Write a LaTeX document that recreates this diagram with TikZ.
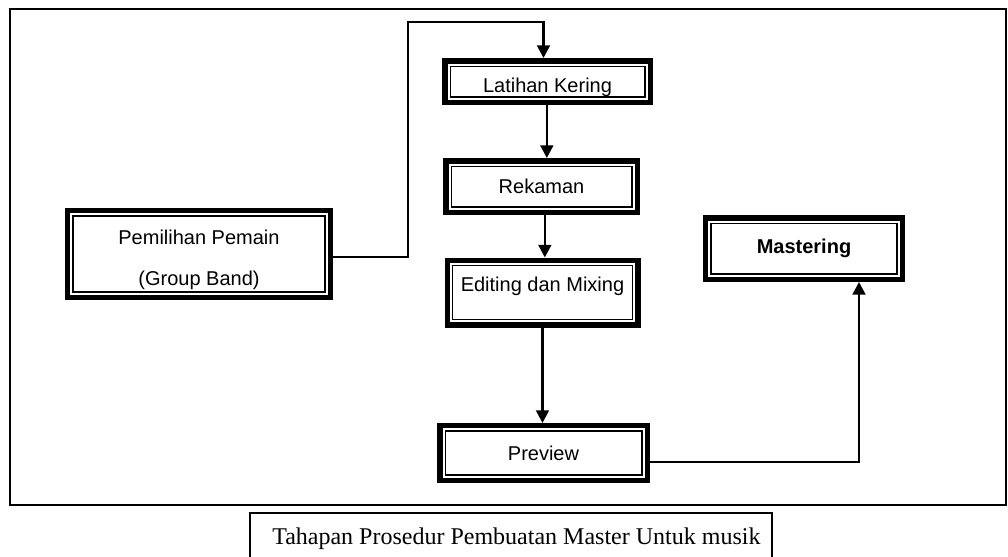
\documentclass[tikz,border=0pt]{standalone}
\usepackage{fontspec}
\setmainfont{Liberation Serif}
\setsansfont{Liberation Sans}
\usetikzlibrary{arrows.meta}
\tikzset{
  stagebox/.style={draw=black,line width=4.1pt,fill=white,inner sep=0pt,
    align=center,font=\sffamily\fontsize{15}{30.75}\selectfont,
    path picture={\draw[line width=1.1pt]
      ([shift={(4.1pt,-4.1pt)}]path picture bounding box.north west) rectangle
      ([shift={(-4.1pt,4.1pt)}]path picture bounding box.south east);}},
  flow/.style={-{Triangle[width=9.5pt,length=9.5pt]},line width=2pt,black},
  frameline/.style={draw=black,line width=1.5pt},
  captionline/.style={draw=black,line width=1.1pt}
}

\begin{document}
\begin{tikzpicture}[x=0.75pt,y=-0.75pt]
  \useasboundingbox (0,0) rectangle (1008,557);
  % Outer frame
  \draw[frameline] (10,9) rectangle (1006,505);

  % Stages
  \node[stagebox,minimum width=196.9pt,minimum height=64.9pt] (pemilihan) at (199,254) {\rule{0pt}{20pt}Pemilihan Pemain\\(Group Band)};
  \node[stagebox,minimum width=154.1pt,minimum height=31.1pt,text height=20pt,text depth=3.2pt] (latihan) at (547.5,81.5) {Latihan Kering};
  \node[stagebox,minimum width=143.6pt,minimum height=38.6pt] (rekaman) at (541.5,186.5) {Rekaman};
  \node[stagebox,minimum width=142.9pt,minimum height=48.4pt,text height=11pt,text depth=12pt] (editing) at (542.5,292.5) {Editing dan Mixing};
  \node[stagebox,minimum width=155.6pt,minimum height=40.9pt] (preview) at (543.5,453) {Preview};
  \node[stagebox,minimum width=147.4pt,minimum height=46.1pt,font=\sffamily\bfseries\fontsize{15}{18}\selectfont] (mastering) at (804,248.5) {Mastering};

  % Connectors
  \coordinate (topturn) at (408,22);
  \draw[flow] ([yshift=-2.25pt]pemilihan.east) -| (topturn) -| ([xshift=-3pt]latihan.north);
  \draw[flow] ([xshift=-0.5pt]latihan.south) -- ([xshift=-0.5pt]rekaman.north -| latihan.south);
  \draw[flow] ([xshift=2.5pt]rekaman.south) -- ([xshift=2.5pt]editing.north -| rekaman.south);
  \draw[flow] (editing.south) -- (preview.north -| editing.south);
  \draw[flow] ([yshift=-6.75pt]preview.east) -| ([xshift=41.25pt]mastering.south);

  % Caption
  \draw[captionline] (250,513) rectangle (772,580);
  \node[anchor=base west,inner sep=0pt,font=\fontsize{18}{21}\selectfont] (caption) at (272,544) {Tahapan Prosedur Pembuatan Master Untuk musik};
\end{tikzpicture}
\end{document}
